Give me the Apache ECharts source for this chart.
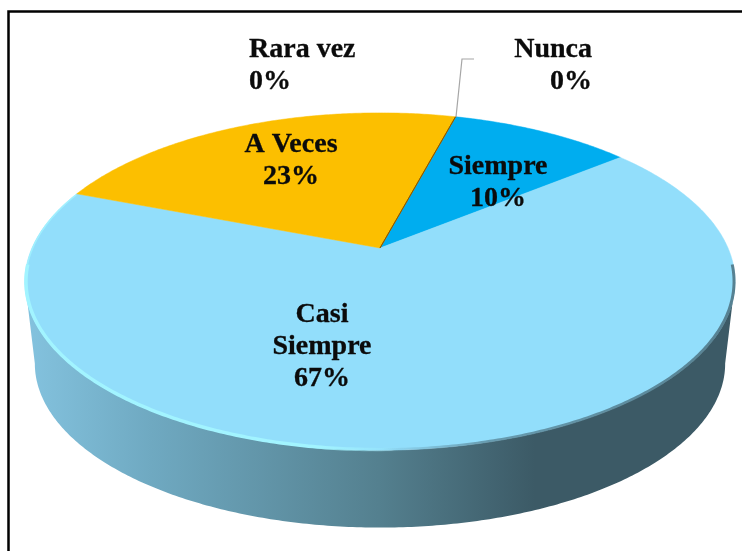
<!DOCTYPE html>
<html><head><meta charset="utf-8">
<style>html,body{margin:0;padding:0;background:#fff}#c{width:742px;height:551px}</style>
<script src="https://cdn.jsdelivr.net/npm/echarts@6/dist/echarts.min.js"></script>
</head><body><div id="c"></div>
<script>
const categories = ['Siempre', 'Casi Siempre', 'A Veces', 'Rara vez', 'Nunca'];
const labelLines = [['Siempre'], ['Casi', 'Siempre'], ['A Veces'], ['Rara vez'], ['Nunca']];
const values = [3, 20, 7, 0, 0];
const colors = ['#00ADEF', '#92DEFB', '#FCBF00', '#C55A11', '#7F6000'];

const FONT = '"Liberation Serif"';
const FS = 28;
const LH = 32;
const startDeg = 15;
const P = {ax: 380, ay: 248, A: 348, B: 162, k: 0.199};
const labelAnchor = [[498, 183, 'center'], [322, 347, 'center'], [291, 161, 'center'], [249, 66, 'left'], [592, 66, 'right']];

function project(theta, scale, dy) {
  const u = Math.sin(theta), v = Math.cos(theta), w = 1 + P.k * v;
  return [P.ax + P.A * scale * u / w, P.ay + dy - P.B * scale * v / w];
}
function arc(t0, t1, scale, dy) {
  const n = Math.max(2, Math.ceil(Math.abs(t1 - t0) / 0.01)), pts = [];
  for (let i = 0; i <= n; i++) pts.push(project(t0 + (t1 - t0) * i / n, scale, dy));
  return pts;
}
const total = values.reduce((a, b) => a + b, 0);
const BOTTOM = {scale: 0.972, dy: 83};

function renderSlice(params, api) {
  const i = params.dataIndex;
  let before = 0;
  for (let j = 0; j < i; j++) before += values[j];
  const t0 = (startDeg + before / total * 360) * Math.PI / 180;
  const t1 = t0 + api.value(1) / total * 2 * Math.PI;
  const children = [];
  if (api.value(1) > 0) {
    children.push({type: 'polygon', shape: {points: [[P.ax, P.ay]].concat(arc(t0, t1, 1, 0))},
      style: {fill: colors[i], stroke: colors[i], lineWidth: 0.5}});
  }
  return {type: 'group', children};
}

function renderZero(params, api) {
  const i = params.dataIndex;
  if (values[i] > 0) return {type: 'group', children: []};
  const t0 = startDeg * Math.PI / 180, e = project(t0, 1, 0);
  return {type: 'line', shape: {x1: P.ax, y1: P.ay, x2: e[0], y2: e[1]},
    style: {stroke: colors[i], lineWidth: 1}};
}

function renderLabel(params, api) {
  const i = params.dataIndex, a = labelAnchor[i];
  const pct = Math.round(values[i] / total * 100) + '%';
  const lines = labelLines[i].concat([pct]);
  return {type: 'group', children: lines.map((t, n) => ({
    type: 'text',
    style: {text: t, x: a[0], y: a[1] + (n - (lines.length - 1) / 2) * LH,
      fill: '#0b0b0b', stroke: '#0b0b0b', lineWidth: 0.3, font: 'bold ' + FS + 'px ' + FONT, align: a[2], verticalAlign: 'middle'}
  }))};
}

const T0 = Math.PI / 2 + 0.2, T1 = 3 * Math.PI / 2 - 0.2;
function sidePolygon() {
  return arc(T0, T1, 1, 0).concat(arc(T1, T0, BOTTOM.scale, BOTTOM.dy));
}
const hGrad = (x0, x1, stops) => ({type: 'linear', x: x0, y: 0, x2: x1, y2: 0, global: true, colorStops: stops});

const chart = echarts.init(document.getElementById('c'), null, {renderer: 'canvas'});
const seriesData = categories.map((c, i) => ({name: c, value: [i, values[i]]}));
chart.setOption({
  animation: false,
  backgroundColor: '#fff',
  graphic: [
    {type: 'rect', z: 0, shape: {x: 8.5, y: 11.5, width: 740, height: 560},
      style: {fill: '#fff', stroke: '#000', lineWidth: 2.5}},
    {type: 'polygon', z: 1, shape: {points: sidePolygon()},
      style: {fill: hGrad(24, 733, [
        {offset: 0, color: '#84C3DF'}, {offset: 0.18, color: '#6FA9C1'},
        {offset: 0.5, color: '#54808F'}, {offset: 0.72, color: '#3C5A66'}, {offset: 1, color: '#3C5A66'}])}},
    {type: 'polyline', z: 12, shape: {points: arc(T0 - 0.1, Math.PI, 0.997, 0)},
      style: {fill: 'none', lineWidth: 3, stroke: hGrad(380, 733, [
        {offset: 0, color: 'rgba(70,100,115,0)'}, {offset: 0.3, color: 'rgba(60,90,102,0.5)'}, {offset: 1, color: 'rgba(60,90,102,0.7)'}])}},
    {type: 'polyline', z: 12, shape: {points: arc(Math.PI * 0.98, 3 * Math.PI / 2 - 0.1, 0.997, 0)},
      style: {fill: 'none', lineWidth: 3.5, stroke: hGrad(24, 400, [
        {offset: 0, color: '#A2F4FF'}, {offset: 0.78, color: '#A2F4FF'}, {offset: 1, color: 'rgba(162,244,255,0)'}])}},
    {type: 'polyline', z: 12, shape: {points: arc(3 * Math.PI / 2 - 0.1, 3 * Math.PI / 2 + 0.36, 0.998, 0)},
      style: {fill: 'none', lineWidth: 1.5, stroke: 'rgba(162,244,255,0.8)'}},
    {type: 'polyline', z: 20, shape: {points: [[456, 117], [462, 59], [474, 59]]},
      style: {fill: 'none', stroke: '#A6A6A6', lineWidth: 1.2}}
  ],
  series: [
    {type: 'custom', coordinateSystem: 'none', z: 10, data: seriesData, renderItem: renderSlice, silent: true},
    {type: 'custom', coordinateSystem: 'none', z: 11, data: seriesData, renderItem: renderZero, silent: true},
    {type: 'custom', coordinateSystem: 'none', z: 30, data: seriesData, renderItem: renderLabel, silent: true}
  ]
});
</script></body></html>
